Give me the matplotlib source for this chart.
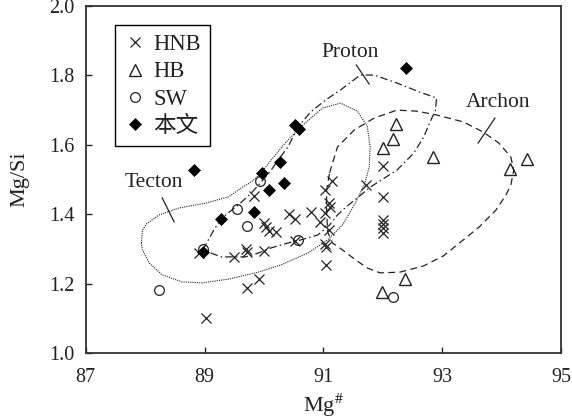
import matplotlib
matplotlib.use("Agg")
import matplotlib.pyplot as plt
from matplotlib.font_manager import FontProperties

plt.rcParams['font.family'] = ['Liberation Serif', 'Noto Sans CJK SC']
plt.rcParams['mathtext.fontset'] = 'stix'

# ---------------- data ----------------
hnb_x = [88.90, 89.02, 89.50, 89.69, 89.72, 90.00, 89.71, 89.91, 89.84, 90.00,
         90.04, 90.09, 90.21, 90.42, 90.52, 90.79, 90.52, 91.15, 91.02, 91.09,
         91.12, 91.02, 90.94, 91.10, 91.02, 91.04, 91.04, 91.71, 92.00, 92.00,
         92.00, 92.00, 92.00, 92.00]
hnb_y = [1.287, 1.100, 1.276, 1.300, 1.291, 1.294, 1.187, 1.213, 1.452, 1.375,
         1.363, 1.352, 1.349, 1.401, 1.386, 1.406, 1.323, 1.496, 1.470, 1.432,
         1.421, 1.403, 1.378, 1.354, 1.314, 1.305, 1.254, 1.484, 1.539, 1.449,
         1.383, 1.372, 1.360, 1.346]

hb_x = [92.22, 92.17, 92.00, 92.84, 94.14, 94.42, 92.37, 91.99]
hb_y = [1.660, 1.617, 1.591, 1.565, 1.530, 1.559, 1.213, 1.176]

sw_x = [88.24, 88.97, 89.54, 89.72, 89.94, 90.57, 92.17]
sw_y = [1.182, 1.300, 1.415, 1.366, 1.496, 1.326, 1.161]

bw_x = [88.82, 89.27, 88.97, 89.84, 89.96, 90.09, 90.27, 90.34, 90.52, 90.59, 92.39]
bw_y = [1.527, 1.386, 1.291, 1.406, 1.519, 1.470, 1.550, 1.490, 1.657, 1.646, 1.821]

series_labels = ['HNB', 'HB', 'SW', '本文']

# field outlines (closed)
tecton_x = [87.938, 87.955, 88.022, 88.238, 88.572, 89.022, 89.405, 89.622, 89.788,
            89.938, 90.122, 90.355, 90.572, 90.788, 90.988, 91.288, 91.572, 91.738,
            91.788, 91.772, 91.688, 91.522, 91.322, 91.072, 90.738, 90.288, 89.905,
            89.405, 88.955, 88.622, 88.288, 88.072, 87.955]
tecton_y = [1.317, 1.354, 1.372, 1.398, 1.418, 1.432, 1.450, 1.476, 1.493,
            1.516, 1.556, 1.605, 1.643, 1.677, 1.706, 1.720, 1.697, 1.654,
            1.594, 1.536, 1.484, 1.427, 1.369, 1.326, 1.288, 1.254, 1.233,
            1.213, 1.202, 1.205, 1.225, 1.259, 1.297]

proton_x = [88.972, 89.155, 89.288, 89.572, 89.788, 89.955, 90.122, 90.238, 90.405,
            90.572, 90.788, 91.038, 91.288, 91.622, 91.855, 92.238, 92.622, 92.905,
            92.888, 92.788, 92.688, 92.522, 92.238, 91.788, 91.572, 91.405, 91.238,
            91.105, 90.905, 90.622, 90.405, 90.122, 89.905, 89.688, 89.288, 89.105]
proton_y = [1.297, 1.354, 1.389, 1.427, 1.461, 1.493, 1.527, 1.556, 1.594,
            1.651, 1.695, 1.729, 1.758, 1.801, 1.801, 1.778, 1.752, 1.735,
            1.700, 1.663, 1.622, 1.576, 1.527, 1.478, 1.447, 1.424, 1.398,
            1.369, 1.340, 1.326, 1.317, 1.303, 1.288, 1.277, 1.277, 1.288]

archon_x = [91.105, 91.238, 91.522, 91.855, 92.238, 92.572, 92.905, 93.355, 93.688,
            93.955, 94.155, 94.205, 94.155, 94.072, 93.905, 93.622, 93.355, 93.022,
            92.688, 92.288, 91.955, 91.738, 91.522, 91.322, 91.155, 91.072, 91.055,
            91.055]
archon_y = [1.519, 1.594, 1.643, 1.677, 1.700, 1.697, 1.686, 1.666, 1.637,
            1.605, 1.565, 1.527, 1.484, 1.455, 1.412, 1.363, 1.326, 1.280,
            1.251, 1.233, 1.231, 1.245, 1.271, 1.297, 1.317, 1.349, 1.412,
            1.470]

field_names = ['Tecton', 'Proton', 'Archon']
field_label_x = [88.155, 91.455, 93.938]
field_label_y = [1.490, 1.867, 1.723]
field_tick_x = [[88.288, 88.488], [91.555, 91.772], [93.605, 93.888]]
field_tick_y = [[1.447, 1.378], [1.830, 1.775], [1.605, 1.677]]

x_ticks = [87, 89, 91, 93, 95]
y_ticks = [1.0, 1.2, 1.4, 1.6, 1.8, 2.0]

# ---------------- figure ----------------
ink = '#222222'
fig = plt.figure(figsize=(5.72, 4.2), dpi=100)
ax = fig.add_axes([0.1498, 0.1595, 0.8310, 0.8262])


def closed(xs, ys):
    return list(xs) + [xs[0]], list(ys) + [ys[0]]


tx, ty = closed(tecton_x, tecton_y)
ax.plot(tx, ty, color=ink, lw=0.8, linestyle=(0, (1.0, 1.0)), zorder=1)
px_, py_ = closed(proton_x, proton_y)
ax.plot(px_, py_, color=ink, lw=0.9, linestyle=(0, (6, 2.5, 1.2, 2.5)), zorder=1)
ax_, ay_ = closed(archon_x, archon_y)
ax.plot(ax_, ay_, color=ink, lw=0.9, linestyle=(0, (5.5, 3.5)), zorder=1)

for name, lx, ly, tkx, tky in zip(field_names, field_label_x, field_label_y,
                                  field_tick_x, field_tick_y):
    ax.text(lx, ly, name, fontsize=15.5, color=ink, ha='center', va='center')
    ax.plot(tkx, tky, color=ink, lw=0.9)

ax.plot(hnb_x, hnb_y, linestyle='none', marker='x', ms=7.5, mew=0.9,
        color=ink, label=series_labels[0], zorder=3)
ax.plot(hb_x, hb_y, linestyle='none', marker='^', ms=8.5, mew=1.0,
        mfc='none', mec=ink, label=series_labels[1], zorder=3)
ax.plot(sw_x, sw_y, linestyle='none', marker='o', ms=7, mew=0.9,
        mfc='none', mec=ink, label=series_labels[2], zorder=3)
ax.plot(bw_x, bw_y, linestyle='none', marker='D', ms=6.3, mew=0.5,
        color='black', label=series_labels[3], zorder=4)

ax.set_xlim(87, 95)
ax.set_ylim(1.0, 2.0)
ax.set_xticks(x_ticks)
ax.set_yticks(y_ticks)
ax.set_xticklabels([str(v) for v in x_ticks])
ax.set_yticklabels(['%.1f' % v for v in y_ticks])
ax.tick_params(direction='in', length=4, width=1, colors=ink, labelsize=14.5)
ax.tick_params(axis='x', pad=11)
ax.tick_params(axis='y', pad=8)

for s in ax.spines.values():
    s.set_color('#333333')
    s.set_linewidth(1.3)

ax.set_xlabel(r'Mg$^{\#}$', fontsize=16, color=ink, labelpad=3)
ax.set_ylabel('Mg/Si', fontsize=16, color=ink, labelpad=14)

leg = ax.legend(loc='upper left', bbox_to_anchor=(0.061, 0.945), borderaxespad=0,
                frameon=True, fancybox=False, edgecolor='black', framealpha=1,
                handlelength=1.0, handletextpad=0.3, labelspacing=0.28,
                borderpad=0.4, numpoints=1,
                prop=FontProperties(family=['Liberation Serif', 'Noto Sans CJK SC'], size=16.3))
leg.get_frame().set_linewidth(1.0)
for t in leg.get_texts():
    t.set_color(ink)

fig.savefig('out.png', dpi=100)
